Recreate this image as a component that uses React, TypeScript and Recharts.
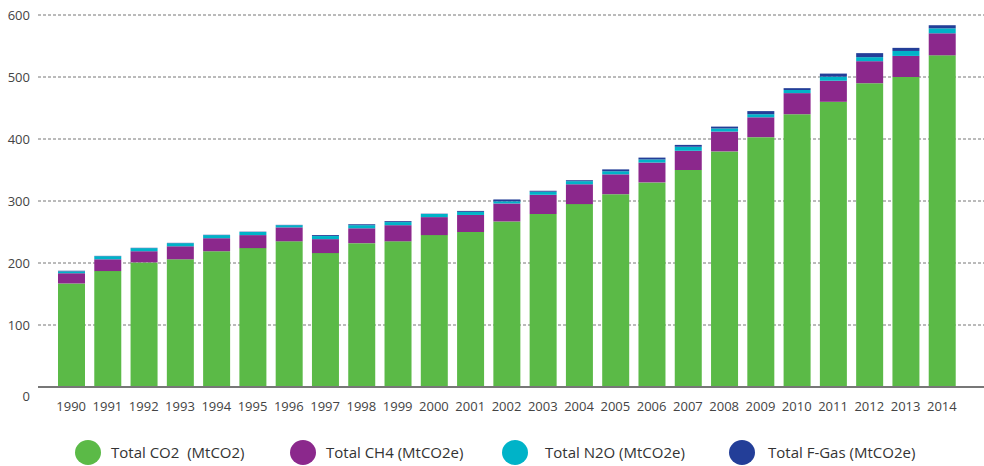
import { BarChart, Bar, XAxis, YAxis, CartesianGrid } from 'recharts';

const years = ['1990', '1991', '1992', '1993', '1994', '1995', '1996', '1997', '1998', '1999', '2000', '2001', '2002', '2003', '2004', '2005', '2006', '2007', '2008', '2009', '2010', '2011', '2012', '2013', '2014'];
const co2 = [167, 187, 201, 206, 219, 224, 235, 216, 232, 235, 245, 250, 267, 279, 295, 311, 330, 350, 380, 403, 440, 460, 490, 500, 535];
const ch4 = [16.5, 19, 18, 21, 21, 21, 22.5, 22.5, 24, 26, 29, 27.5, 29, 31, 32, 32, 32, 31, 32, 32, 34, 34, 35.5, 34, 35.5];
const n2o = [3, 5, 5, 5, 5, 5, 3.5, 5, 5, 5, 5, 5, 3.5, 5, 5, 5, 5, 6.5, 5, 5, 5, 6.5, 6.5, 8, 8];
const fgas = [1, 0.5, 0.5, 0.5, 0.5, 0.5, 0.5, 1.5, 1.5, 1.5, 0.5, 1.5, 3, 1.5, 1.5, 3, 3, 3, 3, 5, 3, 5, 6.5, 5, 5];
const yTicks = [0, 100, 200, 300, 400, 500, 600];

const series = [
  { key: 'co2', name: 'Total CO2  (MtCO2)', color: '#5bba47' },
  { key: 'ch4', name: 'Total CH4 (MtCO2e)', color: '#8b288c' },
  { key: 'n2o', name: 'Total N2O (MtCO2e)', color: '#00b3c8' },
  { key: 'fgas', name: 'Total F-Gas (MtCO2e)', color: '#233e98' },
];

const data = years.map((y, i) => ({ year: y, co2: co2[i], ch4: ch4[i], n2o: n2o[i], fgas: fgas[i] }));

const font = '"Open Sans", sans-serif';

// legend item placement (circle left, text left)
const legendPos = [
  [75, 111],
  [290, 326],
  [502, 545],
  [729, 768],
];

function YTick(props: any) {
  const { x, y, payload } = props;
  const dy = payload.value === 0 ? 14 : 4.5;
  return (
    <text x={x} y={y} dy={dy} textAnchor="end" fill="#444" fontSize={13} fontFamily={font}>
      {payload.value}
    </text>
  );
}

export default function App() {
  return (
    <div style={{ position: 'absolute', left: 0, top: 0, width: 984, height: 466, background: '#fff' }}>
      <BarChart
        width={984}
        height={420}
        data={data}
        margin={{ top: 15, right: 0, left: 0, bottom: 8 }}
        barSize={27}
      >
        <CartesianGrid vertical={false} strokeDasharray="3 2" stroke="#777" />
        <XAxis
          dataKey="year"
          height={25}
          padding={{ left: 15, right: 24 }}
          tickLine={false}
          axisLine={{ stroke: '#777', strokeWidth: 2 }}
          tickMargin={9}
          interval={0}
          tick={{ fill: '#444', fontSize: 13, fontFamily: font }}
        />
        <YAxis
          width={38}
          domain={[0, 600]}
          ticks={yTicks}
          axisLine={false}
          tickLine={false}
          tick={<YTick />}
        />
        {series.map((s) => (
          <Bar key={s.key} dataKey={s.key} name={s.name} stackId="a" fill={s.color} isAnimationActive={false} />
        ))}
      </BarChart>
      <div style={{ position: 'absolute', left: 0, top: 420, width: 984, height: 46, fontFamily: font, fontSize: 15, color: '#333' }}>
        {series.map((s, i) => (
          <div key={s.key}>
            <span style={{ position: 'absolute', left: legendPos[i][0], top: 20, width: 26, height: 25, borderRadius: '50%', background: s.color }} />
            <span style={{ position: 'absolute', left: legendPos[i][1], top: 21, lineHeight: '22px', whiteSpace: 'pre' }}>{s.name}</span>
          </div>
        ))}
      </div>
    </div>
  );
}
